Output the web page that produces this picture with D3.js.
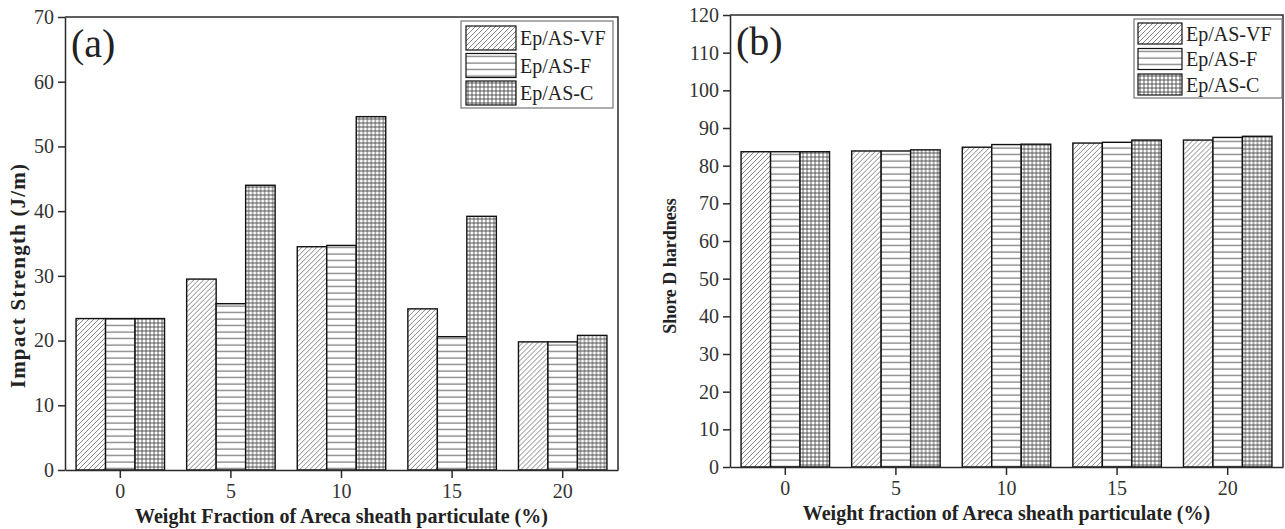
<!DOCTYPE html>
<html>
<head>
<meta charset="utf-8">
<script src="https://cdn.jsdelivr.net/npm/d3@7"></script>
<style>
  html, body { margin: 0; padding: 0; background: #fff; }
  svg { display: block; font-family: "Liberation Serif", "Times New Roman", serif; }
</style>
</head>
<body>
<svg id="chart" width="1285" height="529"></svg>
<script>
// ===== data =====
const categories = ['0', '5', '10', '15', '20'];
const seriesNames = ['Ep/AS-VF', 'Ep/AS-F', 'Ep/AS-C'];

// (a) impact strength, J/m
const impactVF = [23.4, 29.5, 34.5, 24.9, 19.8];
const impactF  = [23.4, 25.7, 34.7, 20.6, 19.8];
const impactC  = [23.4, 44.0, 54.6, 39.2, 20.8];

// (b) shore D hardness
const hardVF = [83.7, 83.9, 84.9, 86.0, 86.8];
const hardF  = [83.7, 83.9, 85.6, 86.2, 87.5];
const hardC  = [83.7, 84.2, 85.7, 86.8, 87.8];

const impactTicks = [0, 10, 20, 30, 40, 50, 60, 70];
const hardTicks = [0, 10, 20, 30, 40, 50, 60, 70, 80, 90, 100, 110, 120];

const svg = d3.select('#chart');
const ink = '#2b2b2b';

// ----- hatch patterns -----
const defs = svg.append('defs');
const pVF = defs.append('pattern').attr('id', 'pat-vf')
  .attr('patternUnits', 'userSpaceOnUse').attr('width', 5).attr('height', 5);
pVF.append('rect').attr('width', 5).attr('height', 5).attr('fill', '#fff');
pVF.append('path').attr('d', 'M-1,6 L6,-1 M-1,1 L1,-1 M4,6 L6,4')
  .attr('stroke', '#666').attr('stroke-width', 0.8);

const pF = defs.append('pattern').attr('id', 'pat-f')
  .attr('patternUnits', 'userSpaceOnUse').attr('width', 8).attr('height', 6.5);
pF.append('rect').attr('width', 8).attr('height', 6.5).attr('fill', '#fff');
pF.append('path').attr('d', 'M0,3 L8,3').attr('stroke', '#444').attr('stroke-width', 0.9);

const pC = defs.append('pattern').attr('id', 'pat-c')
  .attr('patternUnits', 'userSpaceOnUse').attr('width', 4).attr('height', 4);
pC.append('rect').attr('width', 4).attr('height', 4).attr('fill', '#fff');
pC.append('path').attr('d', 'M0,2 L4,2 M2,0 L2,4').attr('stroke', '#333').attr('stroke-width', 0.8);

const fills = d3.scaleOrdinal().domain(seriesNames)
  .range(['url(#pat-vf)', 'url(#pat-f)', 'url(#pat-c)']);

function drawPanel(opt) {
  const { left, top, width, height } = opt;
  const g = svg.append('g').attr('transform', `translate(${left},${top})`);

  const x0 = d3.scaleBand().domain(categories).range([0, width])
    .paddingInner(0.2).paddingOuter(0.1);
  const x1 = d3.scaleBand().domain(seriesNames).range([0, x0.bandwidth()]);
  const y = d3.scaleLinear().domain(opt.domain).range([height, 0]);

  const rows = categories.map((c, i) => ({
    cat: c,
    vals: seriesNames.map((s, k) => ({ s, v: opt.series[k][i] }))
  }));

  // bars
  g.selectAll('.grp').data(rows).enter().append('g')
    .attr('transform', d => `translate(${x0(d.cat)},0)`)
    .selectAll('rect').data(d => d.vals).enter().append('rect')
    .attr('x', d => x1(d.s))
    .attr('y', d => y(d.v))
    .attr('width', x1.bandwidth())
    .attr('height', d => height - y(d.v))
    .attr('fill', d => fills(d.s))
    .attr('stroke', '#111')
    .attr('stroke-width', 1.4);

  // frame (top + right)
  g.append('path')
    .attr('d', `M0,0 H${width} V${height}`)
    .attr('fill', 'none').attr('stroke', ink).attr('stroke-width', 1.5);

  // axes
  const yAxis = g.append('g')
    .call(d3.axisLeft(y).tickValues(opt.ticks).tickSize(7).tickPadding(4).tickSizeOuter(0));
  const xAxis = g.append('g').attr('transform', `translate(0,${height})`)
    .call(d3.axisBottom(x0).tickSize(8).tickPadding(6).tickSizeOuter(0));
  [yAxis, xAxis].forEach(a => {
    a.select('.domain').attr('stroke', ink).attr('stroke-width', 1.5);
    a.selectAll('.tick line').attr('stroke', ink).attr('stroke-width', 1.5);
    a.selectAll('.tick text').attr('fill', '#333')
      .style('font-family', '"Liberation Serif", serif').style('font-size', '20px');
  });

  // axis titles
  g.append('text')
    .attr('x', width / 2).attr('y', height + 53)
    .attr('text-anchor', 'middle')
    .style('font-weight', 'bold').style('font-size', '20px').attr('fill', '#222')
    .text(opt.xTitle);
  g.append('text')
    .attr('transform', `translate(${-opt.yTitleOffset},${height / 2 + opt.yTitleShift}) rotate(-90)`)
    .attr('text-anchor', 'middle').attr('dy', '0.35em')
    .style('font-weight', 'bold').style('font-size', opt.yTitleFont + 'px')
    .style('letter-spacing', opt.yTitleSpacing + 'px').attr('fill', '#222')
    .text(opt.yTitle);

  // panel tag
  g.append('text')
    .attr('x', 6).attr('y', 40)
    .style('font-size', '40px').attr('fill', '#222')
    .text(opt.tag);

  // legend
  const L = opt.legend;
  const lg = g.append('g').attr('transform', `translate(${L.x},${L.y})`);
  lg.append('rect')
    .attr('width', L.w).attr('height', L.h)
    .attr('fill', '#fff').attr('stroke', '#777').attr('stroke-width', 1.2);
  const item = lg.selectAll('.item').data(seriesNames).enter().append('g')
    .attr('transform', (d, i) => `translate(${L.pad},${L.pad + i * L.step})`);
  item.append('rect')
    .attr('width', L.sw).attr('height', L.sh)
    .attr('fill', d => fills(d)).attr('stroke', '#111').attr('stroke-width', 1.2);
  item.append('text')
    .attr('x', L.sw + 4).attr('y', L.sh / 2).attr('dy', '0.35em')
    .style('font-size', L.font + 'px').attr('fill', '#222')
    .text(d => d);
}

drawPanel({
  left: 65, top: 17, width: 553, height: 453,
  domain: [0, 70], ticks: impactTicks,
  series: [impactVF, impactF, impactC],
  xTitle: 'Weight Fraction of Areca sheath particulate (%)',
  yTitle: 'Impact Strength (J/m)', yTitleOffset: 47, yTitleShift: 32,
  yTitleFont: 21, yTitleSpacing: 1.2,
  tag: '(a)',
  legend: { x: 396, y: 4, w: 152, h: 87, pad: 5, step: 27.5, sw: 50, sh: 24, font: 20 }
});

drawPanel({
  left: 730, top: 15, width: 553, height: 452,
  domain: [0, 120], ticks: hardTicks,
  series: [hardVF, hardF, hardC],
  xTitle: 'Weight fraction of Areca sheath particulate (%)',
  yTitle: 'Shore D hardness', yTitleOffset: 60, yTitleShift: 25,
  yTitleFont: 18, yTitleSpacing: 0,
  tag: '(b)',
  legend: { x: 404, y: 4, w: 148, h: 79, pad: 4, step: 25.5, sw: 44, sh: 21, font: 20 }
});
</script>
</body>
</html>
